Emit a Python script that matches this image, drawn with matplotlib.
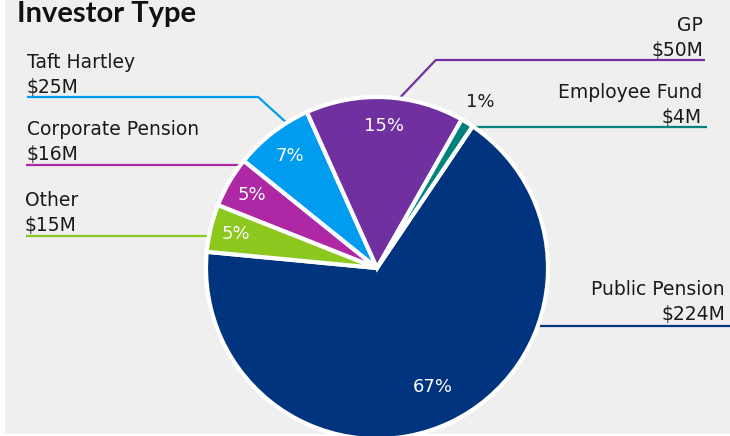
import numpy as np
import matplotlib.pyplot as plt
from matplotlib.patches import Rectangle

plt.rcParams['font.family'] = ['DejaVu Sans']

# data (in $M), clockwise from the top right
names = ['Public Pension', 'Other', 'Corporate Pension', 'Taft Hartley', 'GP', 'Employee Fund']
amounts = [224, 15, 16, 25, 50, 4]
amount_labels = ['$224M', '$15M', '$16M', '$25M', '$50M', '$4M']
pct_labels = ['67%', '5%', '5%', '7%', '15%', '1%']
colors = ['#00347f', '#8dc81e', '#ae27a5', '#009cf0', '#7030a0', '#00827c']

W, H = 730, 436
def py(y):
    return H - y

fig = plt.figure(figsize=(7.3, 4.36), dpi=100)
fig.patch.set_facecolor('white')
fig.patches.append(Rectangle((5 / W, 2 / H), 1, 1, transform=fig.transFigure,
                             facecolor='#efefef', edgecolor='none', zorder=-10))
ax = fig.add_axes([0, 0, 1, 1])
ax.set_facecolor('none')

cx, cy, R = 377, py(268), 171
wedges, _ = ax.pie(amounts, colors=colors, startangle=56, counterclock=False,
                   center=(cx, cy), radius=R,
                   wedgeprops=dict(edgecolor='white', linewidth=3))
ax.set_xlim(0, W)
ax.set_ylim(0, H)
ax.set_aspect('equal')
ax.axis('off')

def angle_in(w, f=0.5):
    return np.deg2rad(w.theta1 + f * (w.theta2 - w.theta1))

# percentage labels
pct_dist = [0.77, 0.85, 0.85, 0.83, 0.83, 1.14]
for i, (w, lab, d) in enumerate(zip(wedges, pct_labels, pct_dist)):
    a = angle_in(w)
    ax.text(cx + d * R * np.cos(a), cy + d * R * np.sin(a), lab,
            ha='center', va='center', fontsize=13,
            color='#1a1a1a' if i == 5 else 'white')

# category labels with leader lines
txt = '#1a1a1a'
fs = 13.5
# (x, baseline of name, line y, align, line far end x)
layout = {
    'Public Pension': (725, 295, 326, 'right', 730),
    'Other': (25, 206, 236, 'left', 26),
    'Corporate Pension': (27, 135, 165, 'left', 26),
    'Taft Hartley': (27, 68, 97, 'left', 27),
    'GP': (703, 31, 60, 'right', 705),
    'Employee Fund': (702, 98, 127, 'right', 707),
}
bent = {'Taft Hartley': (0.28, -1.1), 'GP': (0.42, 0.95)}
for i, name in enumerate(names):
    x, yb, yl, al, xend = layout[name]
    ax.text(x, py(yb), name, ha=al, va='baseline', fontsize=fs, color=txt)
    ax.text(x, py(yb + 25), amount_labels[i], ha=al, va='baseline', fontsize=fs, color=txt)
    col = colors[i]
    if name in bent:
        f, slope = bent[name]
        a = angle_in(wedges[i], f)
        ex, ey = cx + 0.99 * R * np.cos(a), cy + 0.99 * R * np.sin(a)
        elbow = ex + (py(yl) - ey) * slope
        ax.plot([xend, elbow, ex], [py(yl), py(yl), ey], color=col, lw=1.6,
                solid_capstyle='butt', zorder=0)
    else:
        dy = py(yl) - cy
        dx = np.sqrt(R ** 2 - dy ** 2)
        xs = cx - dx if al == 'left' else cx + dx
        ax.plot([xend, xs], [py(yl), py(yl)], color=col, lw=1.6,
                solid_capstyle='butt', zorder=0)

ax.text(17, py(22), 'Investor Type', ha='left', va='baseline', fontsize=21,
        fontweight='bold', color='#111111', family=['Lato', 'DejaVu Sans'])

fig.savefig('out.png', dpi=100, facecolor=fig.get_facecolor())
